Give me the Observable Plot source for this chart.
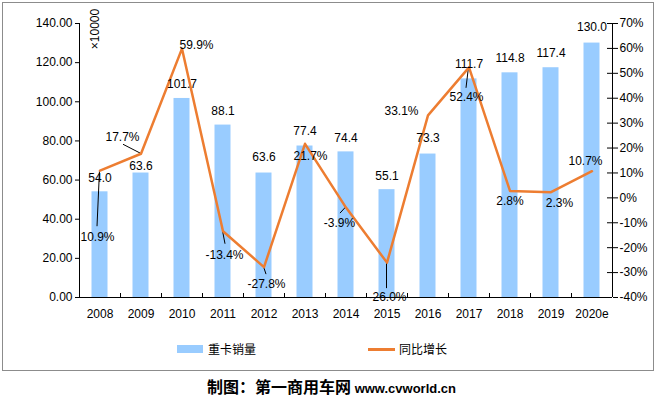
<!DOCTYPE html>
<html>
<head>
<meta charset="utf-8">
<script src="https://cdn.jsdelivr.net/npm/d3@7"></script>
<script src="https://cdn.jsdelivr.net/npm/@observablehq/plot@0.6"></script>
<style>
  body { margin: 0; background: #fff; font-family: "Liberation Sans", Arial, sans-serif; }
  #wrap { position: relative; width: 657px; height: 398px; overflow: hidden; }
  #frame { position: absolute; left: 2px; top: 2px; width: 652px; height: 369px; border: 1px solid #8c8c8c; box-sizing: border-box; }
  #chart { position: absolute; left: 0; top: 0; }
  #unit { position: absolute; left: 95px; top: 29px; transform: translate(-50%, -50%) rotate(-90deg); font-size: 12px; white-space: nowrap; color: #000; }
  .leg { position: absolute; font-size: 12px; color: #000; font-family: "Noto Sans CJK SC", sans-serif; line-height: 14px; }
  #caption { position: absolute; left: 207px; top: 374px; white-space: nowrap; font-weight: bold; color: #000; }
  #caption .cn { font-family: "Noto Sans CJK SC", sans-serif; font-size: 16px; }
  #caption .en { font-family: "Liberation Sans", Arial, sans-serif; font-size: 13px; }
</style>
</head>
<body>
<div id="wrap">
  <div id="frame"></div>
  <div id="chart"></div>
  <div id="unit">×10000</div>
  <div class="leg" style="left:177px;top:345px;width:26px;height:8px;background:#99ccff;"></div>
  <div class="leg" style="left:208px;top:342px;">重卡销量</div>
  <div class="leg" style="left:368px;top:348px;width:27px;height:3px;background:#ed7d31;"></div>
  <div class="leg" style="left:399px;top:342px;">同比增长</div>
  <div id="caption"><span class="cn">制图：第一商用车网 </span><span class="en">www.cvworld.cn</span></div>
</div>
<script>
// ---- data ----
const years = ["2008","2009","2010","2011","2012","2013","2014","2015","2016","2017","2018","2019","2020e"];
const sales = [54.0, 63.6, 101.7, 88.1, 63.6, 77.4, 74.4, 55.1, 73.3, 111.7, 114.8, 117.4, 130.0];
const growth = [10.9, 17.7, 59.9, -13.4, -27.8, 21.7, -3.9, -26.0, 33.1, 52.4, 2.8, 2.3, 10.7];
const leftTicks = [0, 20, 40, 60, 80, 100, 120, 140];
const rightTicks = [-40, -30, -20, -10, 0, 10, 20, 30, 40, 50, 60, 70];

// ---- label layout (pixel offsets) ----
const barLabelDy = [-14, -7, -14, -14, -16, -15, -14, -14, -16, -15, -15, -15, -16];
const growthLabelOff = [[-2.5,66],[-18.5,-17],[14.5,-4],[1.5,24],[2.5,17.5],[5.5,12],[-6.5,16],[0.5,35],[-26.5,-4],[-2.5,30],[0,10],[8.5,11],[-6.5,-10]];
const leaderEnd = [[-2.5,56],[-17.5,-9],null,[2.5,13],[2.5,7.5],null,[-5.5,6],[0,26],null,[-2.5,21],null,null,null];

const W = 657, H = 371, mL = 79, mR = 45, mT = 23, mB = 74;
const bw = (W - mL - mR) / years.length;
const gMin = -40, gMax = 70, yMax = 140;
const toLeft = g => (g - gMin) * yMax / (gMax - gMin);
const fromLeft = v => v * (gMax - gMin) / yMax + gMin;
const idx = years.map((_, i) => i);
const blue = "#99ccff", orange = "#ed7d31";

function leaders(index, scales) {
  const x = scales.x, y = scales.y;
  const band = x.bandwidth ? x.bandwidth() : bw;
  const g = d3.create("svg:g").attr("stroke", "#000").attr("stroke-width", 1);
  idx.forEach(i => {
    const e = leaderEnd[i];
    if (!e) return;
    const px = x(years[i]) + band / 2, py = y(toLeft(growth[i]));
    g.append("line").attr("x1", px).attr("y1", py).attr("x2", px + e[0]).attr("y2", py + e[1]);
  });
  return g.node();
}

const marks = [
  Plot.barY(idx, {x: i => years[i], y: i => sales[i], fill: blue, insetLeft: (bw - 16) / 2, insetRight: (bw - 16) / 2}),
  leaders,
  Plot.lineY(idx, {x: i => years[i], y: i => toLeft(growth[i]), stroke: orange, strokeWidth: 2.5}),
  Plot.ruleX([years[0]], {dx: -bw / 2, stroke: "#000"}),
  Plot.ruleX([years[years.length - 1]], {dx: bw / 2, stroke: "#000"}),
  Plot.ruleY([0], {stroke: "#000"}),
  Plot.ruleX(years, {x: d => d, dx: -bw / 2, stroke: "#000", insetTop: (H - mT - mB) - 4}),
  Plot.tickY(rightTicks, {y: d => toLeft(d), stroke: "#000", insetLeft: (W - mL - mR) - 5}),
  Plot.axisY({anchor: "left", ticks: leftTicks, tickFormat: d => d.toFixed(2), tickSize: 4, tickPadding: 3, label: null, fontSize: 12}),
  Plot.axisY({anchor: "right", ticks: rightTicks.map(toLeft), tickFormat: d => Math.round(fromLeft(d)) + "%", tickSize: 5, tickPadding: 2, label: null, fontSize: 12}),
  Plot.axisX({anchor: "bottom", tickSize: 0, tickPadding: 12, label: null, fontSize: 12}),
  ...idx.map(i => Plot.text([i], {x: d => years[d], y: d => sales[d], text: d => sales[d].toFixed(1), dy: barLabelDy[i], fontSize: 12, fill: "#000"})),
  ...idx.map(i => Plot.text([i], {x: d => years[d], y: d => toLeft(growth[d]), text: d => growth[d].toFixed(1) + "%", dx: growthLabelOff[i][0], dy: growthLabelOff[i][1], fontSize: 12, fill: "#000"}))
];

const chart = Plot.plot({
  width: W, height: H,
  marginLeft: mL, marginRight: mR, marginTop: mT, marginBottom: mB,
  style: {fontFamily: "'Liberation Sans', Arial, sans-serif", fontSize: "12px", color: "#000", background: "transparent", overflow: "visible"},
  x: {type: "band", domain: years, padding: 0},
  y: {domain: [0, yMax], nice: false},
  marks
});
document.getElementById("chart").appendChild(chart);
</script>
</body>
</html>
